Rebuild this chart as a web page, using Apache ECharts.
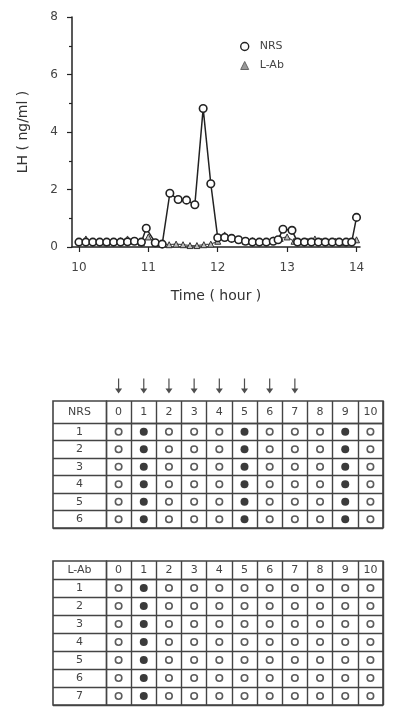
<!DOCTYPE html>
<html lang="en">
  <head>
    <meta charset="UTF-8" />
    <title>LH</title>
    <style>
      html, body { margin: 0; padding: 0; background: #fff; }
      #container { width: 419px; height: 707px; }
    </style>
    <script src="https://cdn.jsdelivr.net/npm/echarts@6.0.0/dist/echarts.min.js"></script>
  </head>
  <body>
    <div id="container"></div>
    <script>
      // LH profile, NRS group (hour, ng/ml)
      const nrsTime = [10.0, 10.1, 10.2, 10.3, 10.4, 10.5, 10.6, 10.7, 10.8, 10.9, 10.97,
        11.1, 11.2, 11.31, 11.43, 11.55, 11.67, 11.79, 11.9, 12.0, 12.1, 12.2, 12.3, 12.4,
        12.5, 12.6, 12.7, 12.8, 12.87, 12.94, 13.07, 13.15, 13.25, 13.35, 13.45, 13.55,
        13.65, 13.75, 13.85, 13.93, 14.0]
      const nrsLH = [0.17, 0.17, 0.17, 0.17, 0.17, 0.17, 0.17, 0.18, 0.2, 0.17, 0.65,
        0.15, 0.1, 1.87, 1.65, 1.63, 1.47, 4.82, 2.2, 0.32, 0.33, 0.3, 0.25, 0.2,
        0.17, 0.17, 0.17, 0.2, 0.25, 0.62, 0.58, 0.17, 0.17, 0.17, 0.17, 0.17,
        0.17, 0.17, 0.17, 0.17, 1.03]

      // LH profile, L-Ab group
      const labTime = [10.0, 10.1, 10.2, 10.3, 10.4, 10.5, 10.6, 10.7, 10.8, 10.9, 11.0,
        11.1, 11.2, 11.3, 11.4, 11.5, 11.6, 11.7, 11.8, 11.9, 12.0, 12.1, 12.2, 12.3,
        12.4, 12.5, 12.6, 12.7, 12.8, 12.9, 13.0, 13.1, 13.2, 13.3, 13.4, 13.5, 13.6,
        13.7, 13.8, 13.9, 14.0]
      const labLH = [0.2, 0.28, 0.2, 0.18, 0.15, 0.2, 0.22, 0.28, 0.2, 0.15, 0.35,
        0.12, 0.1, 0.08, 0.1, 0.08, 0.05, 0.05, 0.08, 0.1, 0.2, 0.42, 0.32, 0.28,
        0.2, 0.22, 0.18, 0.2, 0.25, 0.3, 0.35, 0.2, 0.18, 0.2, 0.28, 0.2, 0.18,
        0.2, 0.15, 0.18, 0.25]

      const hourTicks = [10, 11, 12, 13, 14]

      // tables: columns are days, rows are animals, 1 = filled dot
      const dayCols = ['0', '1', '2', '3', '4', '5', '6', '7', '8', '9', '10']
      const arrowDays = [0, 1, 2, 3, 4, 5, 6, 7]
      const nrsRows = ['1', '2', '3', '4', '5', '6']
      const nrsTable = [
        [0, 1, 0, 0, 0, 1, 0, 0, 0, 1, 0],
        [0, 1, 0, 0, 0, 1, 0, 0, 0, 1, 0],
        [0, 1, 0, 0, 0, 1, 0, 0, 0, 1, 0],
        [0, 1, 0, 0, 0, 1, 0, 0, 0, 1, 0],
        [0, 1, 0, 0, 0, 1, 0, 0, 0, 1, 0],
        [0, 1, 0, 0, 0, 1, 0, 0, 0, 1, 0],
      ]
      const labRows = ['1', '2', '3', '4', '5', '6', '7']
      const labTable = [
        [0, 1, 0, 0, 0, 0, 0, 0, 0, 0, 0],
        [0, 1, 0, 0, 0, 0, 0, 0, 0, 0, 0],
        [0, 1, 0, 0, 0, 0, 0, 0, 0, 0, 0],
        [0, 1, 0, 0, 0, 0, 0, 0, 0, 0, 0],
        [0, 1, 0, 0, 0, 0, 0, 0, 0, 0, 0],
        [0, 1, 0, 0, 0, 0, 0, 0, 0, 0, 0],
        [0, 1, 0, 0, 0, 0, 0, 0, 0, 0, 0],
      ]

      const ink = '#222'
      const gridInk = '#444'
      const font = 'DejaVu Sans'
      const line = { lineStyle: { color: gridInk, width: 1.4 } }
      const cellText = { color: '#444', fontSize: 11, fontFamily: font }

      function cells(table, filled) {
        const out = []
        table.forEach((row, r) => {
          row.forEach((v, c) => {
            if (!!v === filled) out.push([c, r])
          })
        })
        return out
      }

      // body of a table: day columns on top, animal rows on the left (53px label column)
      function tableAxes(gi, frameGi, headGi, cols, rows, title, headH) {
        return {
          x: [
            { gridIndex: frameGi, type: 'value', show: false },
            {
              gridIndex: gi,
              type: 'category',
              data: cols,
              position: 'top',
              boundaryGap: true,
              axisLine: { show: true, ...line },
              axisTick: { show: false },
              axisLabel: { margin: headH / 2, verticalAlign: 'middle', ...cellText },
              splitLine: { show: true, ...line },
            },
          ],
          y: [
            { gridIndex: frameGi, type: 'value', show: false },
            {
              gridIndex: gi,
              type: 'category',
              data: rows,
              inverse: true,
              boundaryGap: true,
              axisLine: { show: true, ...line },
              axisTick: { show: true, length: 53, ...line },
              axisLabel: { margin: 26.5, align: 'center', ...cellText },
              splitLine: { show: true, ...line },
            },
          ],
          headX: {
            gridIndex: headGi,
            type: 'category',
            data: cols,
            boundaryGap: true,
            axisLine: { show: false },
            axisTick: { show: false },
            axisLabel: { show: false },
            splitLine: { show: true, ...line },
          },
          headY: {
            gridIndex: headGi,
            type: 'category',
            data: [title],
            axisLine: { show: true, ...line },
            axisTick: { show: false },
            axisLabel: { margin: 26.5, align: 'center', ...cellText },
            splitLine: { show: false },
          },
        }
      }

      const t1 = tableAxes(2, 1, 6, dayCols, nrsRows, 'NRS', 22)
      const t2 = tableAxes(5, 4, 7, dayCols, labRows, 'L-Ab', 18)

      const chart = echarts.init(document.getElementById('container'))

      const options = {
        animation: false,
        backgroundColor: '#fff',
        textStyle: { fontFamily: font },
        legend: {
          left: 235,
          top: 36,
          orient: 'vertical',
          itemWidth: 8,
          itemHeight: 8,
          itemGap: 8,
          textStyle: { color: '#444', fontSize: 11, padding: [0, 0, 0, 6] },
          data: [
            {
              name: 'NRS',
              icon: 'circle',
              itemStyle: { color: '#fff', borderColor: ink, borderWidth: 1.4 },
            },
            {
              name: 'L-Ab',
              icon: 'triangle',
              itemStyle: { color: '#999', borderColor: '#666', borderWidth: 1 },
            },
          ],
        },
        grid: [
          { left: 72, right: 59, top: 17, bottom: 460 },
          { left: 53, right: 36, top: 401, height: 127, show: true, borderColor: gridInk, borderWidth: 1.6, backgroundColor: 'transparent' },
          { left: 106, right: 36, top: 423, height: 105 },
          { left: 106, right: 36, top: 376, height: 20 },
          { left: 53, right: 36, top: 561, bottom: 2, show: true, borderColor: gridInk, borderWidth: 1.6, backgroundColor: 'transparent' },
          { left: 106, right: 36, top: 579, bottom: 2 },
          { left: 106, right: 36, top: 401, height: 22 },
          { left: 106, right: 36, top: 561, height: 18 },
        ],
        xAxis: [
          {
            gridIndex: 0,
            type: 'value',
            min: 9.9,
            max: 14.05,
            axisLine: { show: true, lineStyle: { color: ink, width: 1.5 } },
            axisTick: { show: true, length: 5, customValues: hourTicks, lineStyle: { color: ink, width: 1.2 } },
            axisLabel: { customValues: hourTicks, margin: 15, color: '#444', fontSize: 12 },
            splitLine: { show: false },
            name: 'Time ( hour )',
            nameLocation: 'middle',
            nameGap: 42,
            nameTextStyle: { color: '#333', fontSize: 14 },
          },
          ...t1.x,
          { gridIndex: 3, type: 'category', data: dayCols, show: false },
          ...t2.x,
          t1.headX,
          t2.headX,
        ],
        yAxis: [
          {
            gridIndex: 0,
            type: 'value',
            min: 0,
            max: 8,
            interval: 2,
            axisLine: { show: true, lineStyle: { color: ink, width: 1.5 } },
            axisTick: { show: true, length: 5, lineStyle: { color: ink, width: 1.2 } },
            minorTick: { show: true, splitNumber: 2, length: 3, lineStyle: { color: ink, width: 1.2 } },
            axisLabel: { margin: 14, color: '#444', fontSize: 12 },
            splitLine: { show: false },
            name: 'LH ( ng/ml )',
            nameLocation: 'middle',
            nameGap: 42,
            nameTextStyle: { color: '#333', fontSize: 14 },
          },
          ...t1.y,
          { gridIndex: 3, type: 'value', min: 0, max: 1, show: false },
          ...t2.y,
          t1.headY,
          t2.headY,
        ],
        series: [
          {
            name: 'L-Ab',
            type: 'line',
            xAxisIndex: 0,
            yAxisIndex: 0,
            data: labTime.map((t, i) => [t, labLH[i]]),
            symbol: 'triangle',
            symbolSize: 6,
            lineStyle: { color: '#555', width: 1.2 },
            itemStyle: { color: '#bbb', borderColor: '#333', borderWidth: 1 },
            z: 2,
          },
          {
            name: 'NRS',
            type: 'line',
            xAxisIndex: 0,
            yAxisIndex: 0,
            data: nrsTime.map((t, i) => [t, nrsLH[i]]),
            symbol: 'circle',
            symbolSize: 7.5,
            lineStyle: { color: ink, width: 1.5 },
            itemStyle: { color: '#fff', borderColor: ink, borderWidth: 1.6 },
            z: 3,
          },
          {
            type: 'scatter',
            xAxisIndex: 3,
            yAxisIndex: 3,
            data: arrowDays.map((d) => [d, 0.5]),
            symbol: 'path://M3.4,0 H4.6 V11 H3.4 Z M0.5,10 L7.5,10 L4,15 Z',
            symbolSize: [7, 15],
            itemStyle: { color: '#222' },
          },
          {
            type: 'scatter',
            xAxisIndex: 2,
            yAxisIndex: 2,
            data: cells(nrsTable, false),
            symbol: 'circle',
            symbolSize: 6.5,
            itemStyle: { color: '#fff', borderColor: '#333', borderWidth: 1.6 },
          },
          {
            type: 'scatter',
            xAxisIndex: 2,
            yAxisIndex: 2,
            data: cells(nrsTable, true),
            symbol: 'circle',
            symbolSize: 8,
            itemStyle: { color: '#0a0a0a' },
          },
          {
            type: 'scatter',
            xAxisIndex: 5,
            yAxisIndex: 5,
            data: cells(labTable, false),
            symbol: 'circle',
            symbolSize: 6.5,
            itemStyle: { color: '#fff', borderColor: '#333', borderWidth: 1.6 },
          },
          {
            type: 'scatter',
            xAxisIndex: 5,
            yAxisIndex: 5,
            data: cells(labTable, true),
            symbol: 'circle',
            symbolSize: 8,
            itemStyle: { color: '#0a0a0a' },
          },
        ],
      }

      chart.setOption(options)
    </script>
  </body>
</html>
